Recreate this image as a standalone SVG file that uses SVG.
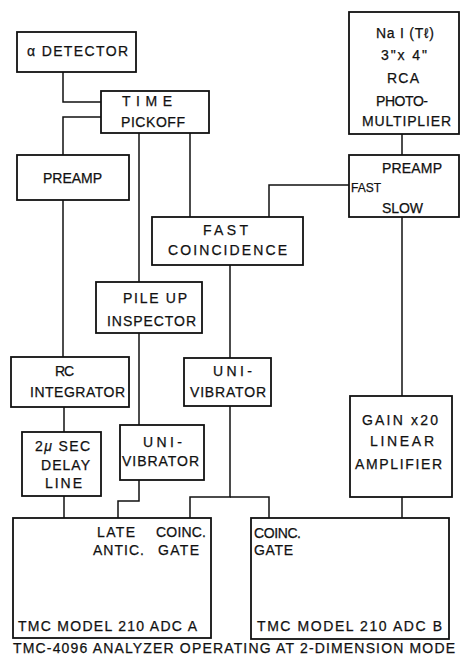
<svg xmlns="http://www.w3.org/2000/svg" width="460" height="656" viewBox="0 0 460 656">
<style>
.box{fill:#fff;stroke:#111;stroke-width:1.8}
.ln{fill:none;stroke:#111;stroke-width:1.5}
text{font-family:"Liberation Sans",Arial,sans-serif;font-size:14px;fill:#111;stroke:#111;stroke-width:0.25}
.sm{font-size:12px}
</style>
<rect width="460" height="656" fill="#fff"/>
<g id="connectors">
<path class="ln" d="M63,72 V102 H101"/>
<path class="ln" d="M101,117 H63 V155"/>
<path class="ln" d="M139,133 V282"/>
<path class="ln" d="M190,133 V217"/>
<path class="ln" d="M402,134 V155"/>
<path class="ln" d="M349,185 H269 V217"/>
<path class="ln" d="M402,217 V396"/>
<path class="ln" d="M230,265 V358"/>
<path class="ln" d="M63,200 V357"/>
<path class="ln" d="M64,407 V432"/>
<path class="ln" d="M64,496 V518"/>
<path class="ln" d="M139,333 V425"/>
<path class="ln" d="M139,480 V501 H118 V518"/>
<path class="ln" d="M230,406 V497 H190 V518"/>
<path class="ln" d="M230,497 H269 V518"/>
<path class="ln" d="M402,497 V518"/>
</g>
<g id="alpha-detector">
<rect class="box" x="17" y="32" width="119" height="40"/>
<text x="27" y="56" textLength="101" lengthAdjust="spacing">α DETECTOR</text>
</g>
<g id="time-pickoff">
<rect class="box" x="101" y="91" width="108" height="42"/>
<text x="122" y="106" textLength="50" lengthAdjust="spacing">TIME</text>
<text x="121" y="127" textLength="64" lengthAdjust="spacing">PICKOFF</text>
</g>
<g id="preamp-left">
<rect class="box" x="17" y="155" width="112" height="45"/>
<text x="43" y="183" textLength="59" lengthAdjust="spacing">PREAMP</text>
</g>
<g id="nai-detector">
<rect class="box" x="349" y="12" width="110" height="122"/>
<text x="376" y="38" textLength="58" lengthAdjust="spacing">Na I (Tℓ)</text>
<text x="381" y="60" textLength="46" lengthAdjust="spacing">3"x 4"</text>
<text x="387" y="83" textLength="32" lengthAdjust="spacing">RCA</text>
<text x="376" y="106" textLength="52" lengthAdjust="spacing">PHOTO-</text>
<text x="362" y="126" textLength="89" lengthAdjust="spacing">MULTIPLIER</text>
</g>
<g id="preamp-right">
<rect class="box" x="349" y="155" width="110" height="62"/>
<text x="382" y="173" textLength="60" lengthAdjust="spacing">PREAMP</text>
<text class="sm" x="351" y="192">FAST</text>
<text x="382" y="213" textLength="41" lengthAdjust="spacing">SLOW</text>
</g>
<g id="fast-coincidence">
<rect class="box" x="152" y="217" width="151" height="48"/>
<text x="203" y="235" textLength="45" lengthAdjust="spacing">FAST</text>
<text x="168" y="255" textLength="119" lengthAdjust="spacing">COINCIDENCE</text>
</g>
<g id="pile-up-inspector">
<rect class="box" x="96" y="282" width="106" height="51"/>
<text x="123" y="303" textLength="64" lengthAdjust="spacing">PILE UP</text>
<text x="107" y="326" textLength="89" lengthAdjust="spacing">INSPECTOR</text>
</g>
<g id="rc-integrator">
<rect class="box" x="11" y="357" width="118" height="50"/>
<text x="55" y="376" textLength="19" lengthAdjust="spacing">RC</text>
<text x="30" y="397" textLength="95" lengthAdjust="spacing">INTEGRATOR</text>
</g>
<g id="univibrator-mid">
<rect class="box" x="184" y="358" width="87" height="48"/>
<text x="213" y="376" textLength="39" lengthAdjust="spacing">UNI-</text>
<text x="190" y="397" textLength="76" lengthAdjust="spacing">VIBRATOR</text>
</g>
<g id="delay-line">
<rect class="box" x="22" y="432" width="79" height="64"/>
<text x="35" y="451" textLength="55" lengthAdjust="spacing">2<tspan font-style="italic">μ</tspan> SEC</text>
<text x="41" y="470" textLength="49" lengthAdjust="spacing">DELAY</text>
<text x="45" y="488" textLength="37" lengthAdjust="spacing">LINE</text>
</g>
<g id="univibrator-small">
<rect class="box" x="120" y="425" width="84" height="55"/>
<text x="143" y="447" textLength="39" lengthAdjust="spacing">UNI-</text>
<text x="122" y="466" textLength="77" lengthAdjust="spacing">VIBRATOR</text>
</g>
<g id="gain-amplifier">
<rect class="box" x="350" y="396" width="102" height="101"/>
<text x="362" y="425" textLength="76" lengthAdjust="spacing">GAIN x20</text>
<text x="370" y="446" textLength="64" lengthAdjust="spacing">LINEAR</text>
<text x="355" y="469" textLength="87" lengthAdjust="spacing">AMPLIFIER</text>
</g>
<g id="adc-a">
<rect class="box" x="13" y="518" width="198" height="120"/>
<text x="97" y="537" textLength="38" lengthAdjust="spacing">LATE</text>
<text x="156" y="537" textLength="50" lengthAdjust="spacing">COINC.</text>
<text x="93" y="555" textLength="51" lengthAdjust="spacing">ANTIC.</text>
<text x="158" y="555" textLength="41" lengthAdjust="spacing">GATE</text>
<text x="18" y="631" textLength="179" lengthAdjust="spacing">TMC MODEL 210 ADC  A</text>
</g>
<g id="adc-b">
<rect class="box" x="251" y="518" width="198" height="121"/>
<text x="254" y="538" textLength="47" lengthAdjust="spacing">COINC.</text>
<text x="254" y="555" textLength="39" lengthAdjust="spacing">GATE</text>
<text x="257" y="631" textLength="185" lengthAdjust="spacing">TMC MODEL 210  ADC  B</text>
</g>
<g id="caption">
<text x="13" y="653" textLength="442" lengthAdjust="spacing">TMC-4096 ANALYZER OPERATING AT 2-DIMENSION MODE</text>
</g>
</svg>
